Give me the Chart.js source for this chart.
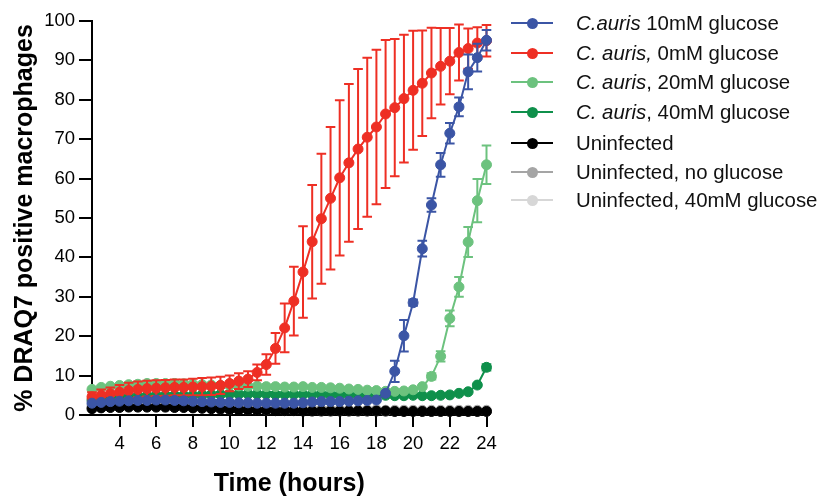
<!DOCTYPE html>
<html>
<head>
<meta charset="utf-8">
<script src="https://cdn.jsdelivr.net/npm/chart.js@4.4.1/dist/chart.umd.min.js"></script>
<style>
  body { margin: 0; background: #fff; }
  #wrap { position: relative; width: 833px; height: 499px; }
  #legend { position: absolute; left: 0; top: 0; }
  .row { position: absolute; left: 511px; height: 30px; display: flex; align-items: center;
         font-family: "Liberation Sans", Arial, sans-serif; font-size: 20.4px; color: #111; white-space: nowrap; }
  .mk { position: relative; width: 42px; height: 2px; margin-right: 23px; }
  .mk b { position: absolute; left: 16px; top: -4.5px; width: 11px; height: 11px; border-radius: 50%; }
</style>
</head>
<body>
<div id="wrap">
  <canvas id="chart" width="833" height="499"></canvas>
  <div id="legend"></div>
</div>
<script>
// ====== DATA ======
const times = [2.5, 3, 3.5, 4, 4.5, 5, 5.5, 6, 6.5, 7, 7.5, 8, 8.5, 9, 9.5, 10, 10.5, 11, 11.5, 12,
  12.5, 13, 13.5, 14, 14.5, 15, 15.5, 16, 16.5, 17, 17.5, 18, 18.5, 19, 19.5, 20, 20.5, 21, 21.5, 22,
  22.5, 23, 23.5, 24];
const xTicks = [4, 6, 8, 10, 12, 14, 16, 18, 20, 22, 24];

const glc10 = [3.0, 3.2, 3.4, 3.5, 3.6, 3.7, 3.7, 3.8, 3.8, 3.7, 3.6, 3.5, 3.4, 3.3, 3.2, 3.2, 3.1, 3.1, 3.0, 3.0,
  3.0, 3.0, 3.0, 3.1, 3.3, 3.4, 3.4, 3.4, 3.5, 3.6, 3.7, 3.8, 5.5, 11.1, 20.1, 28.5, 42.2, 53.3, 63.5, 71.5,
  78.2, 87.1, 90.7, 95.1];
const glc10Err = [0.3, 0.3, 0.3, 0.3, 0.3, 0.3, 0.3, 0.3, 0.3, 0.3, 0.3, 0.3, 0.3, 0.3, 0.3, 0.3, 0.3, 0.3, 0.3, 0.3,
  0.3, 0.3, 0.3, 0.3, 0.3, 0.3, 0.3, 0.3, 0.3, 0.3, 0.3, 0.3, 0.5, 2.7, 4.0, 0.8, 2.0, 1.7, 3.0, 2.6,
  2.4, 4.4, 3.5, 2.6];

const glc0 = [4.6, 5.0, 5.4, 5.8, 6.2, 6.5, 6.7, 6.8, 6.9, 7.0, 7.0, 7.1, 7.2, 7.3, 7.5, 8.0, 8.6, 9.1, 10.8, 12.8,
  16.9, 22.1, 28.9, 36.3, 44.0, 49.8, 55.0, 60.2, 64.0, 67.5, 70.5, 73.1, 76.4, 78.0, 80.3, 82.4, 84.2, 86.8, 88.5, 89.8,
  92.0, 93.0, 94.4, 95.0];
const glc0Err = [1.2, 1.5, 1.6, 1.8, 2.0, 2.0, 2.0, 2.0, 2.0, 2.0, 2.0, 2.1, 2.2, 2.2, 2.2, 2.0, 2.0, 2.0, 2.0, 2.6,
  3.9, 6.2, 8.7, 11.6, 14.4, 16.5, 18.1, 19.7, 20.0, 20.3, 20.2, 19.6, 18.8, 17.4, 16.2, 15.1, 13.4, 11.5, 9.7, 8.4,
  7.1, 5.1, 4.0, 4.0];

const glc20 = [6.5, 7.0, 7.3, 7.5, 7.7, 7.8, 8.0, 8.0, 8.0, 8.0, 7.9, 7.8, 7.7, 7.6, 7.5, 7.5, 7.4, 7.3, 7.3, 7.2,
  7.2, 7.1, 7.1, 7.2, 7.0, 7.0, 6.9, 6.8, 6.6, 6.5, 6.3, 6.2, 6.0, 6.0, 6.1, 6.4, 7.2, 9.8, 14.9, 24.5,
  32.5, 43.9, 54.4, 63.5];
const glc20Err = [0.4, 0.4, 0.4, 0.4, 0.4, 0.4, 0.4, 0.4, 0.4, 0.4, 0.4, 0.4, 0.4, 0.4, 0.4, 0.4, 0.4, 0.4, 0.4, 0.4,
  0.4, 0.4, 0.4, 0.4, 0.4, 0.4, 0.4, 0.4, 0.4, 0.4, 0.4, 0.4, 0.4, 0.4, 0.4, 0.4, 0.5, 0.8, 1.3, 2.0,
  2.5, 3.8, 5.5, 4.9];

const glc40 = [3.8, 4.0, 4.2, 4.4, 4.6, 4.8, 4.9, 5.0, 5.0, 5.0, 5.0, 5.0, 5.1, 5.2, 5.2, 5.3, 5.3, 5.3, 5.3, 5.3,
  5.2, 5.2, 5.2, 5.2, 5.2, 5.2, 5.1, 5.1, 5.1, 5.0, 5.0, 5.0, 5.0, 4.9, 4.9, 5.0, 4.9, 4.9, 5.0, 5.1,
  5.5, 5.9, 7.6, 12.1];
const glc40Err = [0.3, 0.3, 0.3, 0.3, 0.3, 0.3, 0.3, 0.3, 0.3, 0.3, 0.3, 0.3, 0.3, 0.3, 0.3, 0.3, 0.3, 0.3, 0.3, 0.3,
  0.3, 0.3, 0.3, 0.3, 0.3, 0.3, 0.3, 0.3, 0.3, 0.3, 0.3, 0.3, 0.3, 0.3, 0.3, 0.3, 0.3, 0.3, 0.3, 0.3,
  0.3, 0.4, 0.5, 0.8];

const uninf = [1.6, 1.8, 1.9, 1.9, 2.0, 2.0, 2.0, 2.0, 2.0, 1.9, 1.9, 1.8, 1.7, 1.6, 1.5, 1.4, 1.3, 1.3, 1.2, 1.2,
  1.1, 1.1, 1.1, 1.0, 1.0, 1.0, 1.0, 1.0, 1.0, 1.0, 1.0, 1.0, 1.0, 0.9, 0.9, 0.9, 0.9, 0.9, 0.9, 0.9,
  0.9, 0.9, 0.9, 0.9];
const uninfNoGlc = [2.2, 2.3, 2.4, 2.4, 2.5, 2.5, 2.5, 2.4, 2.4, 2.3, 2.3, 2.2, 2.1, 2.0, 1.9, 1.8, 1.7, 1.6, 1.6, 1.5,
  1.5, 1.5, 1.4, 1.4, 1.4, 1.4, 1.3, 1.3, 1.3, 1.3, 1.3, 1.3, 1.2, 1.2, 1.2, 1.2, 1.2, 1.2, 1.2, 1.2,
  1.2, 1.2, 1.2, 1.2];
const uninf40 = [1.8, 1.9, 2.0, 2.1, 2.1, 2.1, 2.1, 2.1, 2.0, 2.0, 1.9, 1.9, 1.8, 1.7, 1.6, 1.5, 1.5, 1.4, 1.4, 1.3,
  1.3, 1.2, 1.2, 1.2, 1.2, 1.1, 1.1, 1.1, 1.1, 1.1, 1.1, 1.1, 1.0, 1.0, 1.0, 1.0, 1.0, 1.0, 1.0, 1.0,
  1.0, 1.0, 1.0, 1.0];

// legend order = dataset order (first one drawn on top)
const series = [
  { label: '<i>C.auris</i> 10mM glucose', values: glc10, err: glc10Err, color: '#3b55a5' },
  { label: '<i>C. auris,</i> 0mM glucose', values: glc0, err: glc0Err, color: '#ee2f24' },
  { label: '<i>C. auris</i>, 20mM glucose', values: glc20, err: glc20Err, color: '#6cc27e' },
  { label: '<i>C. auris</i>, 40mM glucose', values: glc40, err: glc40Err, color: '#0f904b' },
  { label: 'Uninfected', values: uninf, err: null, color: '#000000' },
  { label: 'Uninfected, no glucose', values: uninfNoGlc, err: null, color: '#a5a5a5' },
  { label: 'Uninfected, 40mM glucose', values: uninf40, err: null, color: '#d7d7d7' }
];

// ====== ERROR BARS ======
const errorBars = {
  id: 'errorBars',
  afterDatasetDraw(chart, args) {
    const s = series[args.index];
    if (!s.err) return;
    const y = chart.scales.y, c = chart.ctx;
    c.save();
    c.strokeStyle = s.color;
    c.lineWidth = 2;
    args.meta.data.forEach((pt, i) => {
      const e = s.err[i];
      const top = y.getPixelForValue(s.values[i] + e);
      const bot = y.getPixelForValue(s.values[i] - e);
      if (bot - top < 6) return; // hidden under the dot
      c.beginPath();
      c.moveTo(pt.x, top); c.lineTo(pt.x, bot);
      c.moveTo(pt.x - 4.8, top); c.lineTo(pt.x + 4.8, top);
      c.moveTo(pt.x - 4.8, bot); c.lineTo(pt.x + 4.8, bot);
      c.stroke();
    });
    c.restore();
  }
};

// ====== CHART ======
Chart.defaults.font.family = "'Liberation Sans', Arial, sans-serif";
Chart.defaults.color = '#000';

new Chart(document.getElementById('chart').getContext('2d'), {
  type: 'line',
  data: {
    datasets: series.map(s => ({
      label: s.label,
      data: times.map((t, i) => ({ x: t, y: s.values[i] })),
      borderColor: s.color,
      backgroundColor: s.color,
      pointBackgroundColor: s.color,
      pointBorderColor: s.color,
      borderWidth: 2,
      pointRadius: 5,
      pointBorderWidth: 1,
      tension: 0,
      clip: false
    }))
  },
  options: {
    responsive: false,
    animation: false,
    layout: { padding: { top: 21, left: 0, right: 346.5, bottom: 0 } },
    plugins: { legend: { display: false }, tooltip: { enabled: false } },
    scales: {
      x: {
        type: 'linear', min: 2.5, max: 24,
        afterBuildTicks: sc => { sc.ticks = xTicks.map(v => ({ value: v })); },
        afterFit: sc => { sc.height = 84; },
        ticks: { font: { size: 18.5 }, padding: 6, maxRotation: 0 },
        grid: { drawOnChartArea: false, tickLength: 12, color: '#000', lineWidth: 2 },
        border: { color: '#000', width: 2 },
        title: { display: true, text: 'Time (hours)', font: { size: 25, weight: 'bold' }, padding: { top: 0, bottom: 0 } }
      },
      y: {
        min: 0, max: 100,
        afterFit: sc => { sc.width = 92; },
        ticks: { stepSize: 10, font: { size: 18.5 }, padding: 4 },
        grid: { drawOnChartArea: false, tickLength: 13, color: '#000', lineWidth: 2 },
        border: { color: '#000', width: 2 },
        title: { display: true, text: '% DRAQ7 positive macrophages', font: { size: 25, weight: 'bold' }, padding: { top: 10, bottom: 0 } }
      }
    }
  },
  plugins: [errorBars]
});

// ====== LEGEND ======
const rowY = [23, 53, 82, 112, 143, 172, 200];
document.getElementById('legend').innerHTML = series.map((s, i) => `
  <div class="row" style="top:${rowY[i] - 15}px">
    <span class="mk" style="background:${s.color}"><b style="background:${s.color}"></b></span>
    <span>${s.label}</span>
  </div>`).join('');
</script>
</body>
</html>
